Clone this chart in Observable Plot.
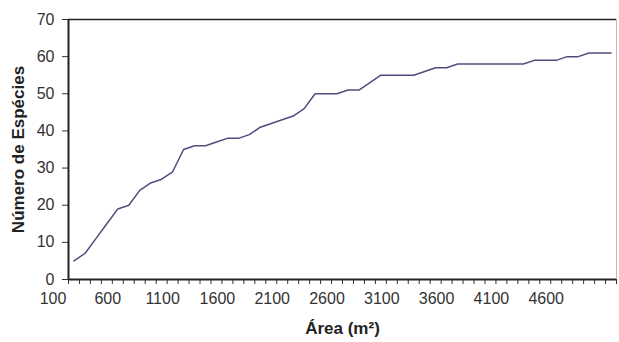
<!DOCTYPE html>
<html><head><meta charset="utf-8">
<script src="https://cdn.jsdelivr.net/npm/d3@7"></script>
<script src="https://cdn.jsdelivr.net/npm/@observablehq/plot@0.6"></script>
<style>body{margin:0;background:#fff} svg{display:block}</style>
</head><body><div id="chart"></div>
<script>
const areas = [100,200,300,400,500,600,700,800,900,1000,
  1100,1200,1300,1400,1500,1600,1700,1800,1900,2000,
  2100,2200,2300,2400,2500,2600,2700,2800,2900,3000,
  3100,3200,3300,3400,3500,3600,3700,3800,3900,4000,
  4100,4200,4300,4400,4500,4600,4700,4800,4900,5000];
const species = [5,7,11,15,19,20,24,26,27,29,
  35,36,36,37,38,38,39,41,42,43,
  44,46,50,50,50,51,51,53,55,55,
  55,55,56,57,57,58,58,58,58,58,
  58,58,59,59,59,60,60,61,61,61];
const xTickLabels = [100,600,1100,1600,2100,2600,3100,3600,4100,4600];
const yTicks = [0,10,20,30,40,50,60,70];
const xTitle = "Área (m²)";
const yTitle = "Número de Espécies";

const data = areas.map((a, i) => ({area: a, species: species[i]}));
const step = areas[1] - areas[0];
const bounds = d3.range(areas[0] - step / 2, areas[areas.length - 1] + step, step);

const chart = Plot.plot({
  width: 619, height: 342,
  marginLeft: 68, marginRight: 3, marginTop: 19, marginBottom: 63,
  style: {fontFamily: "'Liberation Sans', Arial, sans-serif", fontSize: "16px", color: "#333", background: "#fff"},
  x: {domain: [bounds[0], bounds[bounds.length - 1]]},
  y: {domain: [0, 70]},
  marks: [
    Plot.ruleY([70], {stroke: "#222", strokeWidth: 1.5}),
    Plot.ruleX([bounds[bounds.length - 1]], {stroke: "#bbb", strokeWidth: 1}),
    Plot.axisX(bounds, {tickSize: 5, tickFormat: () => "", stroke: "#333", label: null}),
    Plot.axisX(xTickLabels, {tickSize: 0, tickPadding: 13, dx: -21, label: null, fill: "#333", tickFormat: d => String(d)}),
    Plot.axisY(yTicks, {tickSize: 6, tickPadding: 8, label: null, stroke: "#333", fill: "#333", tickFormat: d => String(d)}),
    Plot.lineY(data, {x: "area", y: "species", stroke: "#4d4d7d", strokeWidth: 1.5}),
    Plot.ruleX([bounds[0]], {stroke: "#222", strokeWidth: 2}),
    Plot.ruleY([0], {stroke: "#222", strokeWidth: 2}),
    Plot.text([xTitle], {frameAnchor: "bottom", dy: 54, fontWeight: "bold", fontSize: 17, fill: "#222"}),
    Plot.text([yTitle], {frameAnchor: "left", textAnchor: "middle", dx: -50, rotate: -90, fontWeight: "bold", fontSize: 17, fill: "#222"})
  ]
});
document.getElementById("chart").append(chart);
</script>
</body></html>
